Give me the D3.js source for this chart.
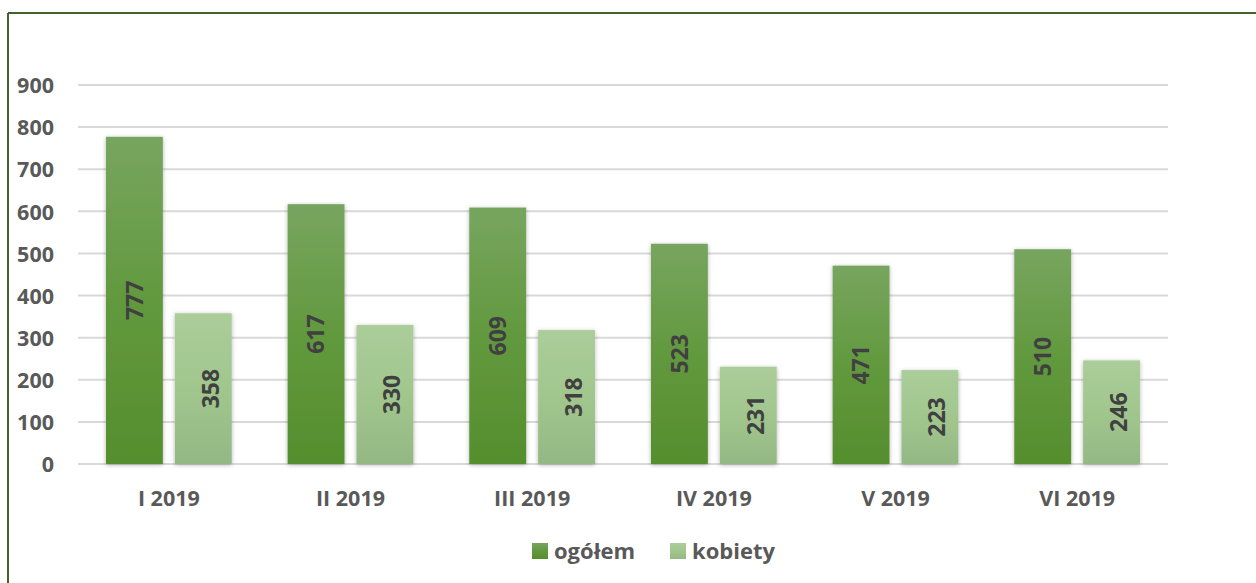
<!DOCTYPE html>
<html>
<head>
<meta charset="utf-8">
<script src="https://cdn.jsdelivr.net/npm/d3@7"></script>
<style>
    body { margin: 0; background: #fff; }
    text { font-family: "Open Sans", sans-serif; font-weight: bold; }
</style>
</head>
<body>
<div id="chart"></div>
<script>
var months = ["I 2019", "II 2019", "III 2019", "IV 2019", "V 2019", "VI 2019"]
var ogolem = [777, 617, 609, 523, 471, 510]
var kobiety = [358, 330, 318, 231, 223, 246]
var seriesNames = ["ogółem", "kobiety"]
var yTicks = [0, 100, 200, 300, 400, 500, 600, 700, 800, 900]

function create_vis() {
    var width = 1256
    var height = 583

    var svg = d3.select("#chart")
        .append("svg")
        .attr("width", width)
        .attr("height", height)

    var defs = svg.append("defs")

    var g1 = defs.append("linearGradient").attr("id", "gradOgolem")
        .attr("x1", 0).attr("y1", 0).attr("x2", 0).attr("y2", 1)
    g1.append("stop").attr("offset", "0%").attr("stop-color", "#77a55f")
    g1.append("stop").attr("offset", "50%").attr("stop-color", "#62993e")
    g1.append("stop").attr("offset", "100%").attr("stop-color", "#558e2d")

    var g2 = defs.append("linearGradient").attr("id", "gradKobiety")
        .attr("x1", 0).attr("y1", 0).attr("x2", 0).attr("y2", 1)
    g2.append("stop").attr("offset", "0%").attr("stop-color", "#abcd9a")
    g2.append("stop").attr("offset", "50%").attr("stop-color", "#a1c68d")
    g2.append("stop").attr("offset", "100%").attr("stop-color", "#93b884")

    var shadow = defs.append("filter").attr("id", "shadow")
        .attr("x", "-20%").attr("y", "-5%").attr("width", "140%").attr("height", "110%")
    shadow.append("feDropShadow")
        .attr("dx", 0).attr("dy", 1)
        .attr("stdDeviation", 2.2)
        .attr("flood-color", "#000")
        .attr("flood-opacity", 0.3)

    // outer frame (only top and left edges visible)
    svg.append("line")
        .attr("x1", 8).attr("y1", 13).attr("x2", width).attr("y2", 13)
        .attr("stroke", "#44622c").attr("stroke-width", 2)
    svg.append("line")
        .attr("x1", 8).attr("y1", 13).attr("x2", 8).attr("y2", height)
        .attr("stroke", "#44622c").attr("stroke-width", 2)

    return svg
}

function draw_chart(svg) {
    var left = 78, right = 1168, top = 85, bottom = 464

    var x0 = d3.scaleBand()
        .domain(months)
        .range([left, right])

    var x1 = d3.scaleBand()
        .domain(seriesNames)
        .range([0, x0.bandwidth()])
        .paddingInner(0.174)
        .paddingOuter(0.406)

    var y = d3.scaleLinear()
        .domain([0, 900])
        .range([bottom, top])

    // gridlines
    svg.append("g")
        .selectAll("line")
        .data(yTicks)
        .enter()
        .append("line")
        .attr("x1", left)
        .attr("x2", right)
        .attr("y1", (d) => y(d))
        .attr("y2", (d) => y(d))
        .attr("stroke", "#d9d9d9")
        .attr("stroke-width", 2)

    // y axis labels
    var yAxis = d3.axisLeft(y).tickValues(yTicks).tickSize(0).tickPadding(0)
    var ya = svg.append("g")
        .attr("transform", "translate(54,0)")
        .call(yAxis)
    ya.select(".domain").remove()
    ya.selectAll("text")
        .attr("fill", "#595959")
        .style("font-size", "21.5px")
        .attr("dy", "0.36em")

    // x axis labels
    var xAxis = d3.axisBottom(x0).tickSize(0).tickPadding(0)
    var xa = svg.append("g")
        .attr("transform", "translate(0,491)")
        .call(xAxis)
    xa.select(".domain").remove()
    xa.selectAll("text")
        .attr("fill", "#595959")
        .style("font-size", "21.5px")
        .attr("dy", "0.7em")

    var rows = months.map((m, i) => {
        return {
            "month": m,
            "values": [
                {"series": "ogółem", "value": ogolem[i]},
                {"series": "kobiety", "value": kobiety[i]}
            ]
        }
    })

    var fills = {"ogółem": "url(#gradOgolem)", "kobiety": "url(#gradKobiety)"}
    var labelShift = {"ogółem": 0, "kobiety": 7}

    var groups = svg.append("g")
        .selectAll("g")
        .data(rows)
        .enter()
        .append("g")
        .attr("transform", (d) => "translate(" + x0(d.month) + ",0)")

    groups.selectAll("rect")
        .data((d) => d.values)
        .enter()
        .append("rect")
        .attr("x", (d) => x1(d.series))
        .attr("y", (d) => y(d.value))
        .attr("width", x1.bandwidth())
        .attr("height", (d) => y(0) - y(d.value))
        .attr("fill", (d) => fills[d.series])
        .attr("filter", "url(#shadow)")

    groups.selectAll("text")
        .data((d) => d.values)
        .enter()
        .append("text")
        .attr("transform", (d) => {
            var cx = x1(d.series) + x1.bandwidth() / 2 + labelShift[d.series]
            var cy = (y(d.value) + y(0)) / 2
            return "translate(" + cx + "," + cy + ") rotate(-90)"
        })
        .attr("text-anchor", "middle")
        .attr("dy", "0.36em")
        .attr("fill", "#404040")
        .style("font-size", "23px")
        .text((d) => d.value)

    // legend
    var legend = svg.append("g").attr("transform", "translate(532,543)")
    var items = legend.selectAll("g")
        .data(seriesNames)
        .enter()
        .append("g")
        .attr("transform", (d, i) => "translate(" + (i * 138) + ",0)")
    items.append("rect")
        .attr("width", 16)
        .attr("height", 16)
        .attr("fill", (d) => fills[d])
    items.append("text")
        .attr("x", 22)
        .attr("y", 8)
        .attr("dy", "0.36em")
        .attr("fill", "#595959")
        .style("font-size", "22px")
        .text((d) => d)
}

var svg = create_vis()
draw_chart(svg)
</script>
</body>
</html>
